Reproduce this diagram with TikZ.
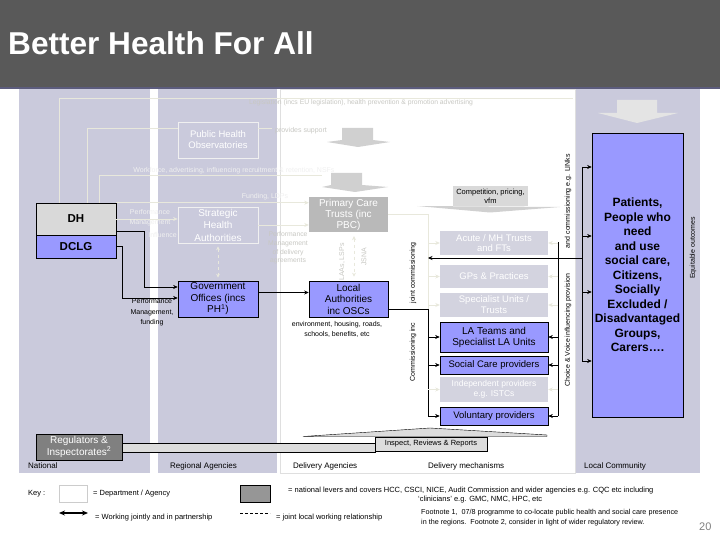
\documentclass[tikz,border=0pt]{standalone}
\usepackage{fontspec}
\setmainfont{Liberation Sans}
\usetikzlibrary{arrows.meta}
\definecolor{titlegray}{RGB}{89,89,89}
\definecolor{stripe}{RGB}{92,92,125}
\definecolor{lav}{RGB}{202,202,220}
\definecolor{peri}{RGB}{153,153,255}
\definecolor{dhgray}{RGB}{217,217,217}
\definecolor{fline}{RGB}{232,232,220}
\definecolor{ftxtw}{RGB}{200,200,195}
\definecolor{ftxtl}{RGB}{240,240,240}
\definecolor{ftxt}{RGB}{222,222,215}
\definecolor{fadebox}{RGB}{211,211,223}
\definecolor{pctgray}{RGB}{185,185,185}
\definecolor{reggray}{RGB}{128,128,128}
\definecolor{ghostarrow}{RGB}{208,208,208}
\definecolor{ghostlt}{RGB}{228,228,228}
\definecolor{barfill}{RGB}{220,220,220}
\definecolor{keygray}{RGB}{150,150,150}
\newcommand{\myfs}[2]{\fontsize{#1}{#2}\selectfont}
\begin{document}
\begin{tikzpicture}[x=1pt,y=-1pt,
  pbox/.style={draw=black, line width=0.6pt, fill=peri, inner sep=0pt, align=center, font=\myfs{10}{11.5}},
  fadedbox/.style={fill=fadebox, text=white, inner sep=0pt, align=center, font=\myfs{9.5}{10.5}},
  ghost/.style={draw=ftxtl, line width=0.7pt, fill=lav, text=white, inner sep=0pt, align=center, font=\myfs{9.5}{11}},
  lbl/.style={inner sep=0pt, align=center, font=\myfs{7}{8.5}},
  flbl/.style={lbl, text=ftxt},
  keytxt/.style={inner sep=0pt, anchor=west, font=\myfs{7.5}{9}},
  blk/.style={line width=0.6pt},
  barr/.style={blk, -{Stealth[length=4.5pt,width=4pt]}},
  fl/.style={draw=fline, line width=0.7pt},
  farr/.style={fl, -{Stealth[length=4.5pt,width=4pt]}},
  fdash/.style={fl, dashed, {Stealth[length=4pt,width=4pt]}-{Stealth[length=4pt,width=4pt]}},
]
% background
\fill[white] (0,0) rectangle (720,540);
\useasboundingbox (0,0) rectangle (720,540);
\fill[titlegray] (0,0) rectangle (720,87);
\fill[stripe] (0,87) rectangle (720,89.5);
\node[anchor=base west, inner sep=0pt, text=white, font=\bfseries\myfs{31.6}{36}] (title) at (8,55) {Better Health For All};
\fill[lav] (19,89) rectangle (150,473);
\fill[lav] (158,89) rectangle (277,473);
\draw[gray!25, fill=white, line width=0.5pt] (280,89.5) rectangle (575,473);
\fill[lav] (576,89) rectangle (700,473);

% ghost block arrows
\fill[ghostarrow] (342,128) -- (373,128) -- (373,140) -- (390,142) -- (358,147) -- (327,142) -- (342,140) -- cycle;
\fill[ghostarrow] (331,173) -- (362,173) -- (362,185) -- (388,187) -- (355,192) -- (322,187) -- (331,185) -- cycle;
\fill[ghostlt] (617,100) -- (657,100) -- (657,113) -- (678,113) -- (637,123) -- (598,113) -- (617,113) -- cycle;
\fill[ghostarrow] (417,206) -- (560,207) -- (490,212.5) -- cycle;

% nodes
\node[pbox, fill=dhgray, minimum width=80pt, minimum height=32pt, font=\bfseries\myfs{11.5}{13}] (dh) at (76,219) {DH};
\node[pbox, minimum width=80pt, minimum height=23pt, font=\bfseries\myfs{11.5}{13}] (dclg) at (76,246.5) {DCLG};
\node[ghost, minimum width=80pt, minimum height=36pt] (pho) at (218,140) {Public Health\\Observatories};
\node[ghost, minimum width=80pt, minimum height=36pt, font=\myfs{10}{12.5}] (sha) at (218,225) {Strategic\\Health\\Authorities};
\node[pbox, minimum width=80pt, minimum height=36pt] (go) at (218,299) {Government\\Offices (incs\\PH\textsuperscript{1})};
\node[fill=pctgray, text=white, inner sep=0pt, align=center, font=\myfs{10}{11}, minimum width=79pt, minimum height=35pt] (pct) at (348.5,214.5) {Primary Care\\Trusts (inc\\PBC)};
\node[pbox, minimum width=79pt, minimum height=36pt] (la) at (348.5,299) {Local\\Authorities\\inc OSCs};
\node[fill=dhgray, minimum width=75pt, minimum height=20pt, inner sep=0pt, align=center, font=\myfs{7.5}{9}] (comp) at (490.5,196) {Competition, pricing,\\vfm};
\node[fadedbox, minimum width=108pt, minimum height=24pt] (acute) at (494,243) {Acute / MH Trusts\\and FTs};
\node[fadedbox, minimum width=108pt, minimum height=23pt] (gps) at (494,276.5) {GPs \& Practices};
\node[fadedbox, minimum width=108pt, minimum height=24pt, font=\myfs{9.5}{11}] (spec) at (494,305) {Specialist Units /\\Trusts};
\node[pbox, minimum width=108pt, minimum height=30pt, font=\myfs{10}{11}] (lat) at (494,337) {LA Teams and\\Specialist LA Units};
\node[pbox, minimum width=108pt, minimum height=18pt, font=\myfs{9.5}{11}] (scp) at (494,365) {Social Care providers};
\node[fadedbox, minimum width=108pt, minimum height=25pt, font=\myfs{8.5}{10}] (ind) at (494,389.5) {Independent providers\\e.g. ISTCs};
\node[pbox, minimum width=108pt, minimum height=18pt, font=\myfs{9.5}{11}] (vol) at (494,416) {Voluntary providers};
\node[pbox, minimum width=91pt, minimum height=284pt, font=\bfseries\myfs{12}{14.5}] (pat) at (637.5,275) {Patients,\\People who\\need\\and use\\social care,\\Citizens,\\Socially\\Excluded /\\Disadvantaged\\Groups,\\Carers….};
\node[draw=black, line width=0.6pt, fill=reggray, text=white, minimum width=86pt, minimum height=26pt, inner sep=0pt, align=center, font=\myfs{10}{12}] (reg) at (79,447) {Regulators \&\\Inspectorates\textsuperscript{2}};
\node[draw=black, fill=barfill, line width=0.5pt, minimum width=112pt, minimum height=14pt, inner sep=0pt, font=\myfs{7.5}{9}] (insp) at (431,444) {Inspect, Reviews \& Reports};
\draw[fill=barfill, line width=0.5pt] ([yshift=4pt]reg.east) rectangle ([yshift=-8pt]insp.west);
\draw[fill=barfill, line width=0.4pt] (303,436.5) -- (430,428) -- (547,435) -- (547,436.5) -- cycle;

% faded lines and labels
\draw[fl] ([xshift=-17pt]dh.north) |- (573,98);
\node[flbl, text=ftxtw, font=\myfs{6.8}{8}] (legis) at (361,103) {Legislation (incs EU legislation), health prevention \& promotion advertising};
\draw[fl] ([xshift=11pt]dh.north) |- ([yshift=12pt]pho.west);
\draw[fl] ([yshift=12pt]pho.east) -- ++(14,0);
\node[flbl, text=ftxtw] (prov) at (301,131) {provides support};
\draw[fl] ([xshift=23pt]dh.north) |- (322,175);
\node[flbl, text=ftxtl] (wf) at (234,171) {Workforce, advertising, influencing recruitment \& retention, NSFs};
\draw[farr] (dh.north east) -- (dh.north east -| pct.west);
\node[flbl, text=ftxtl] (fund) at (265,197) {Funding, LDPs};
\draw[farr] (dh.east) -- (dh.east -| sha.west);
\node[flbl, text=ftxtl, font=\myfs{7}{10}] (pm1) at (150,217.5) {Performance\\Management};
\node[flbl, text=ftxtl, anchor=east] (infl) at (177,235) {Influence};
\draw[farr] (sha.east) -- (sha.east -| pct.west);
\node[flbl, text=ftxtw, font=\myfs{6.8}{8.7}] (pm2) at (288,248) {Performance\\Management\\of delivery\\agreements};
\draw[fdash, shorten <=3pt, shorten >=3pt] (sha.south) -- (go.north);
\draw[fdash, shorten <=4pt, shorten >=4pt] ([xshift=5.5pt]pct.south) -- ([xshift=5.5pt]la.north);
\node[flbl, text=ftxtw, rotate=90] (laa) at (342,262) {LAAs, LSPs};
\node[flbl, text=ftxtw, rotate=90] (jsna) at (364,257) {JSNA};

% black connectors
\draw[barr] ([yshift=-12pt]dh.east) -| (144,287) -- ([yshift=12pt]go.west);
\draw[barr] (dclg.east) -| (122,298) -- ([yshift=1pt]go.west);
\node[lbl, font=\myfs{7}{10.5}] (pmf) at (152,312.5) {Performance\\Management,\\funding};
\draw[barr] ([yshift=6.5pt]go.east) -- ([yshift=6.5pt]la.west);
\node[lbl, font=\myfs{7}{9.5}] (env) at (337,329.5) {environment, housing, roads,\\schools, benefits, etc};

\coordinate (lj) at (428,309);
\draw[fl] (pct.east) -| (lj);
\draw[blk] ([yshift=-10pt]la.east) -- (lj) -- (428,416);
\foreach \n in {acute,gps,spec,ind} \draw[farr] (\n.west -| lj) -- (\n.west);
\foreach \n in {lat,scp,vol} \draw[barr] (\n.west -| lj) -- (\n.west);

\coordinate (rj) at (558,242);
\draw[blk] (rj) -- (558,416);
\foreach \n in {acute,gps,spec,ind} \draw[farr] (\n.east -| rj) -- (\n.east);
\foreach \n in {lat,scp,vol} \draw[barr] (\n.east -| rj) -- (\n.east);

\draw[blk] (582,167) -- (582,361);
\foreach \y in {167,236,292,361} {\coordinate (pb) at (582,\y); \draw[barr] (pb) -- (pb -| pat.west);}
\coordinate (cv) at (582,258);
\draw[barr] (cv) -- (cv -| lj);

\node[lbl, rotate=90] (jc) at (413,273) {joint commissioning};
\node[lbl, rotate=90] (ci) at (413,352) {Commissioning inc};
\node[lbl, rotate=90] (cvt) at (568,330) {Choice \& Voice influencing provision};
\node[lbl, rotate=90] (acm) at (568,201) {and commissioning e.g. LINks};
\node[lbl, rotate=90] (eq) at (693,248) {Equitable outcomes};

% column labels
\node[keytxt, font=\myfs{8}{9}] (cnat) at (28,466) {National};
\node[keytxt, font=\myfs{8}{9}] (creg) at (170,466) {Regional Agencies};
\node[keytxt, font=\myfs{8}{9}] (cdel) at (293,466) {Delivery Agencies};
\node[keytxt, font=\myfs{8}{9}] (cmech) at (428,466) {Delivery mechanisms};
\node[keytxt, font=\myfs{8}{9}] (cloc) at (584,466) {Local Community};

% key
\node[keytxt] (key) at (28,494) {Key :};
\node[draw=gray!40, fill=white, minimum width=28pt, minimum height=17pt, inner sep=0pt] (kdept) at (73,493.5) {};
\node[keytxt] (kdeptt) at (93,494) {= Department / Agency};
\node[draw=black, line width=0.5pt, fill=keygray, minimum width=30pt, minimum height=17pt, inner sep=0pt] (knat) at (255,493.5) {};
\node[keytxt] (knatt) at (288,490.5) {= national levers and covers HCC, CSCI, NICE, Audit Commission and wider agencies e.g. CQC etc including};
\node[keytxt] (knatt2) at (418,499.5) {`clinicians' e.g. GMC, NMC, HPC, etc};
\coordinate (ka1) at (59,513); \coordinate (ka2) at (88,513);
\draw[{Stealth[length=6pt,width=5pt]}-{Stealth[length=6pt,width=5pt]}, line width=1.4pt] (ka1) -- (ka2);
\node[keytxt] (kjt) at (95,517.5) {= Working jointly and in partnership};
\coordinate (kd1) at (240,513); \coordinate (kd2) at (270,513);
\draw[dash pattern=on 3pt off 2pt, line width=0.5pt] (kd1) -- (kd2);
\node[keytxt] (kjl) at (276,517.5) {= joint local working relationship};
\node[keytxt, font=\myfs{7.2}{9}] (fn1) at (421,513) {Footnote 1,\ \ 07/8 programme to co-locate public health and social care presence};
\node[keytxt, font=\myfs{7.2}{9}] (fn2) at (421,522.5) {in the regions.\ \ Footnote 2, consider in light of wider regulatory review.};
\node[keytxt, text=gray, font=\myfs{11}{12}] (pg) at (699,527) {20};
\end{tikzpicture}
\end{document}
